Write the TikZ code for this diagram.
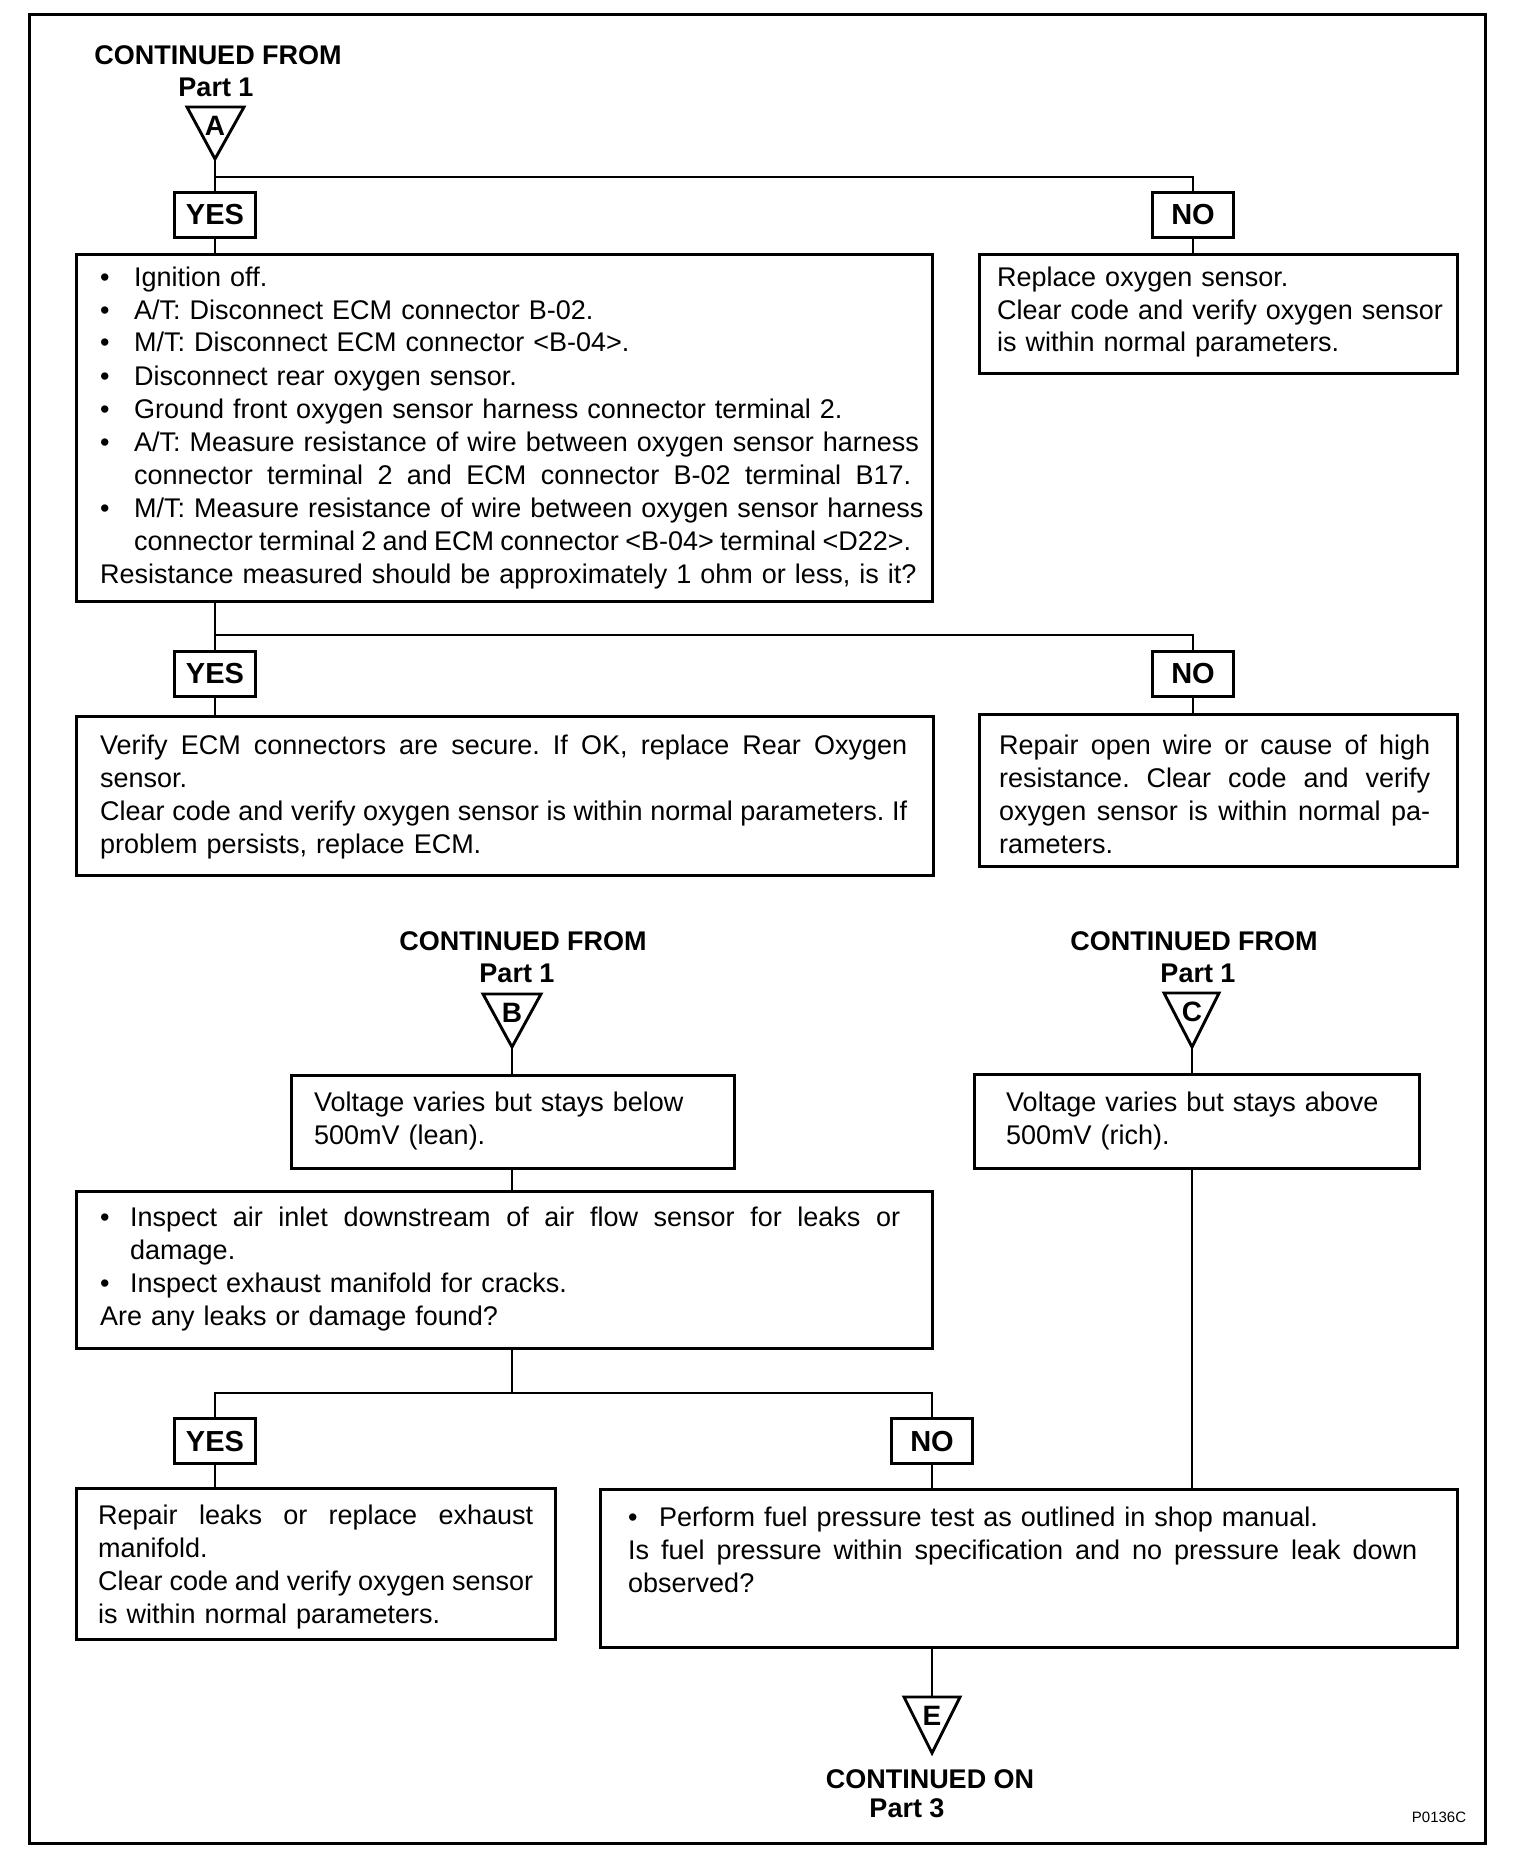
\documentclass[tikz,border=0pt]{standalone}
\usepackage{fontspec}
\setmainfont{Liberation Sans}
\newcommand\bodyfont{\fontsize{27}{33}\selectfont\frenchspacing}
\newcommand\labfont{\fontsize{29}{33}\selectfont\bfseries}
\newcommand\headfont{\fontsize{27}{33}\selectfont\bfseries}
\newcommand\letfont{\fontsize{28}{30}\selectfont\bfseries}
\newcommand\bul[1][34]{\makebox[#1pt][l]{\textbullet}}
\newcommand\jl[2]{{\spaceskip=0.278em plus 1fil minus 0.12em\xspaceskip=\spaceskip\makebox[#1pt][s]{#2}}}
\newcommand\ind[1][34]{\hspace*{#1pt}}
\begin{document}
\begin{tikzpicture}[x=1pt,y=-1pt,
  ln/.style={line width=2.9pt},
  box/.style={draw,line width=2.9pt,inner sep=0pt,anchor=north west},
  yn/.style={draw,line width=2.9pt,minimum width=81pt,minimum height=45pt,inner sep=0pt,font=\labfont},
  txt/.style={anchor=base west,inner sep=0pt,align=left,font=\bodyfont,text width=#1},
  txt/.default=880pt,
  head/.style={inner sep=0pt,font=\headfont},
  tri/.style={draw,line width=2.9pt,line join=miter},
  letter/.style={inner sep=0pt,font=\letfont},
]
\useasboundingbox (0,0) rectangle (1536,1870);
\draw[line width=3pt] (29,15) rectangle (1485,1843);

% ---------- header A ----------
\node[head] (hA1) at (218,55) {CONTINUED FROM};
\node[head] (hA2) at (216,87) {Part 1};
\draw[tri] (187,107) -- (244,107) -- (215,159) -- cycle;
\coordinate (triA) at (215,159);
\node[letter] (lA) at (215,126) {A};

% ---------- boxes ----------
\node[box,minimum width=856pt,minimum height=347pt] (m1) at (75,253) {};
\node[box,minimum width=478pt,minimum height=119pt] (r1) at (978,253) {};
\node[box,minimum width=857pt,minimum height=159pt] (v1) at (75,715) {};
\node[box,minimum width=478pt,minimum height=152pt] (r2) at (978,713) {};
\node[box,minimum width=443pt,minimum height=93pt] (vb) at (290,1074) {};
\node[box,minimum width=445pt,minimum height=94pt] (va) at (973,1073) {};
\node[box,minimum width=856pt,minimum height=157pt] (ins) at (75,1190) {};
\node[box,minimum width=479pt,minimum height=151pt] (rl) at (75,1487) {};
\node[box,minimum width=857pt,minimum height=158pt] (fuel) at (599,1488) {};

% ---------- yes / no ----------
\node[yn] (yes1) at (215,215) {YES};
\node[yn] (no1) at (1193,215) {NO};
\node[yn] (yes2) at (215,674) {YES};
\node[yn] (no2) at (1193,674) {NO};
\node[yn] (yes3) at (215,1441) {YES};
\node[yn] (no3) at (932,1441) {NO};

% ---------- texts ----------
\node[txt] (m1t) at (100,286) {\bul Ignition off.\\
\bul A/T: Disconnect ECM connector B-02.\\
\bul M/T: Disconnect ECM connector <B-04>.\\
\bul Disconnect rear oxygen sensor.\\
\bul Ground front oxygen sensor harness connector terminal 2.\\
\bul A/T: Measure resistance of wire between oxygen sensor harness\\
\ind\jl{777}{connector terminal 2 and ECM connector B-02 terminal B17.}\\
\bul M/T: Measure resistance of wire between oxygen sensor harness\\
\ind\jl{777}{connector terminal 2 and ECM connector <B-04> terminal <D22>.}\\
Resistance measured should be approximately 1 ohm or less, is it?};

\node[txt=450pt] (r1t) at (997,286) {Replace oxygen sensor.\\
Clear code and verify oxygen sensor\\
is within normal parameters.};

\node[txt=840pt] (v1t) at (100,754) {\jl{807}{Verify ECM connectors are secure. If OK, replace Rear Oxygen}\\
sensor.\\
\jl{807}{Clear code and verify oxygen sensor is within normal parameters. If}\\
problem persists, replace ECM.};

\node[txt=440pt] (r2t) at (999,754) {\jl{431}{Repair open wire or cause of high}\\
\jl{431}{resistance. Clear code and verify}\\
\jl{431}{oxygen sensor is within normal pa-}\\
rameters.};

% ---------- header B / C ----------
\node[head] (hB1) at (523,941) {CONTINUED FROM};
\node[head] (hB2) at (517,973) {Part 1};
\draw[tri] (483,994) -- (541,994) -- (512,1047) -- cycle;
\coordinate (triB) at (512,1047);
\node[letter] (lB) at (512,1013) {B};

\node[head] (hC1) at (1194,941) {CONTINUED FROM};
\node[head] (hC2) at (1198,973) {Part 1};
\draw[tri] (1164,993) -- (1219,993) -- (1192,1047) -- cycle;
\coordinate (triC) at (1192,1047);
\node[letter] (lC) at (1192,1012) {C};

\node[txt=420pt] (vbt) at (314,1111) {Voltage varies but stays below\\500mV (lean).};
\node[txt=420pt] (vat) at (1006,1111) {Voltage varies but stays above\\500mV (rich).};

\node[txt=840pt] (inst) at (100,1226) {\bul[30]\jl{770}{Inspect air inlet downstream of air flow sensor for leaks or}\\
\ind[30]damage.\\
\bul[30]Inspect exhaust manifold for cracks.\\
Are any leaks or damage found?};

\node[txt=440pt] (rlt) at (98,1524) {\jl{435}{Repair leaks or replace exhaust}\\
manifold.\\
\jl{435}{Clear code and verify oxygen sensor}\\
is within normal parameters.};

\node[txt=820pt] (fuelt) at (628,1526) {\bul[31]Perform fuel pressure test as outlined in shop manual.\\
\jl{789}{Is fuel pressure within specification and no pressure leak down}\\
observed?};

% ---------- footer E ----------
\draw[tri] (904,1697) -- (960,1697) -- (932,1753) -- cycle;
\coordinate (triEtop) at (932,1697);
\node[letter] (lE) at (932,1716) {E};
\node[head] (hE1) at (930,1779) {CONTINUED ON};
\node[head] (hE2) at (907,1808) {Part 3};
\node[inner sep=0pt,font=\fontsize{15}{18}\selectfont] (code) at (1439,1817) {P0136C};

% ---------- connectors ----------
\coordinate (j1) at (215,177);
\coordinate (j2) at (215,635);
\coordinate (j3) at (512,1393);
\draw[ln] (triA) -- (yes1.north);
\draw[ln] (j1) -| (no1.north);
\draw[ln] (yes1.south) -- (yes1.south |- m1.north);
\draw[ln] (no1.south) -- (no1.south |- r1.north);
\draw[ln] (yes1.south |- m1.south) -- (yes2.north);
\draw[ln] (j2) -| (no2.north);
\draw[ln] (yes2.south) -- (yes2.south |- v1.north);
\draw[ln] (no2.south) -- (no2.south |- r2.north);
\draw[ln] (triB) -- (triB |- vb.north);
\draw[ln] (triB |- vb.south) -- (triB |- ins.north);
\draw[ln] (j3 |- ins.south) -- (j3);
\draw[ln] (yes3.north) |- (j3) -| (no3.north);
\draw[ln] (yes3.south) -- (yes3.south |- rl.north);
\draw[ln] (no3.south) -- (no3.south |- fuel.north);
\draw[ln] (triC) -- (triC |- va.north);
\draw[ln] (triC |- va.south) -- (triC |- fuel.north);
\draw[ln] (no3.south |- fuel.south) -- (triEtop);
\end{tikzpicture}
\end{document}
